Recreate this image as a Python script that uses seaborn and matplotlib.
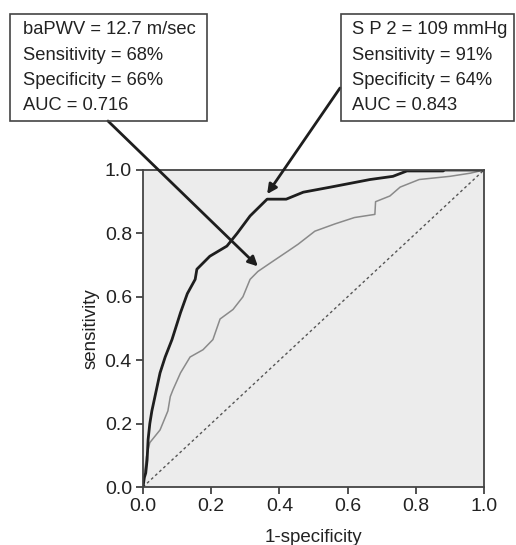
"""
ROC curves for S P 2 and baPWV with cut-off annotations.
"""
import numpy as np
import pandas as pd
import matplotlib.pyplot as plt
from matplotlib.patches import Rectangle
import seaborn as sns

# ---- data ----
sp2_fpr = [0.0, 0.004, 0.008, 0.012, 0.015, 0.02, 0.026, 0.035, 0.04, 0.05, 0.065,
           0.085, 0.11, 0.13, 0.153, 0.158, 0.196, 0.246, 0.276, 0.314, 0.364,
           0.42, 0.47, 0.55, 0.666, 0.733, 0.774, 0.88, 0.885, 1.0]
sp2_tpr = [0.0, 0.03, 0.044, 0.085, 0.15, 0.2, 0.24, 0.285, 0.31, 0.36, 0.41,
           0.465, 0.55, 0.61, 0.655, 0.687, 0.728, 0.76, 0.80, 0.855, 0.908,
           0.908, 0.93, 0.946, 0.97, 0.98, 0.997, 0.997, 1.0, 1.0]

pwv_fpr = [0.0, 0.005, 0.01, 0.02, 0.05, 0.073, 0.08, 0.088, 0.11, 0.138, 0.176,
           0.205, 0.226, 0.264, 0.293, 0.314, 0.337, 0.378, 0.425, 0.455, 0.504,
           0.563, 0.62, 0.68, 0.682, 0.724, 0.754, 0.81, 0.90, 0.96, 1.0]
pwv_tpr = [0.0, 0.05, 0.095, 0.14, 0.18, 0.24, 0.285, 0.307, 0.36, 0.41, 0.433,
           0.465, 0.53, 0.56, 0.60, 0.655, 0.68, 0.71, 0.744, 0.766, 0.807,
           0.83, 0.85, 0.86, 0.90, 0.918, 0.946, 0.97, 0.98, 0.99, 1.0]

ref_line = [0.0, 1.0]

box_pwv = ["baPWV = 12.7 m/sec", "Sensitivity = 68%", "Specificity = 66%", "AUC = 0.716"]
box_sp2 = ["S P 2 = 109 mmHg", "Sensitivity = 91%", "Specificity = 64%", "AUC = 0.843"]

W, H = 516, 545


def main():
    sns.set_style("white")
    plt.rcParams['font.family'] = ['Liberation Sans', 'DejaVu Sans']

    fig = plt.figure(figsize=(W / 100, H / 100), dpi=100)
    ax = fig.add_axes([143 / W, 1 - 487 / H, 341 / W, 317 / H])
    ax.set_facecolor('#ececec')

    ref = pd.DataFrame({'x': ref_line, 'y': ref_line})
    sns.lineplot(x='x', y='y', data=ref, ax=ax, color='#555555', lw=1.0,
                 linestyle=(0, (2, 2)), sort=False, estimator=None)

    pwv = pd.DataFrame({'x': pwv_fpr, 'y': pwv_tpr})
    sns.lineplot(x='x', y='y', data=pwv, ax=ax, color='#8a8a8a', lw=1.1,
                 sort=False, estimator=None)

    sp2 = pd.DataFrame({'x': sp2_fpr, 'y': sp2_tpr})
    sns.lineplot(x='x', y='y', data=sp2, ax=ax, color='#1e1e1e', lw=2.0,
                 sort=False, estimator=None)

    ax.set_xlim(0, 1)
    ax.set_ylim(0, 1)
    ticks = np.arange(0, 1.01, 0.2)
    ax.set_xticks(ticks)
    ax.set_yticks(ticks)
    ax.set_xticklabels([f"{v:.1f}" for v in ticks])
    ax.set_yticklabels([f"{v:.1f}" for v in ticks])
    ax.tick_params(axis='both', direction='out', length=5, width=1.2,
                   color='#333333', labelsize=14, labelcolor='#222222',
                   bottom=True, left=True, pad=3)
    for sp in ax.spines.values():
        sp.set_color('#444444')
        sp.set_linewidth(1.3)
    ax.set_xlabel('1-specificity', fontsize=13.5, color='#222222', labelpad=10)
    ax.set_ylabel('sensitivity', fontsize=13.5, color='#222222', labelpad=4)

    # text boxes (figure pixels)
    for x0, x1, tx, lines in [(10, 207, 23, box_pwv), (341, 514, 352, box_sp2)]:
        fig.patches.append(Rectangle((x0 / W, 1 - 121 / H), (x1 - x0) / W, 107 / H,
                                     transform=fig.transFigure, fill=False,
                                     edgecolor='#444444', lw=1.2))
        for i, t in enumerate(lines):
            fig.text(tx / W, 1 - (30 + 25.3 * i) / H, t, fontsize=13.2,
                     color='#222222', va='center', ha='left')

    # arrows
    ax.annotate('', xy=(0.337, 0.696), xycoords='data',
                xytext=(108 / W, 1 - 121 / H), textcoords='figure fraction',
                arrowprops=dict(arrowstyle='-|>', color='#1e1e1e', lw=2.0,
                                mutation_scale=14, shrinkA=0, shrinkB=0))
    ax.annotate('', xy=(0.364, 0.924), xycoords='data',
                xytext=(340 / W, 1 - 88 / H), textcoords='figure fraction',
                arrowprops=dict(arrowstyle='-|>', color='#1e1e1e', lw=2.0,
                                mutation_scale=14, shrinkA=0, shrinkB=0))

    fig.savefig('out.png', dpi=100)
    plt.close(fig)


if __name__ == '__main__':
    main()
